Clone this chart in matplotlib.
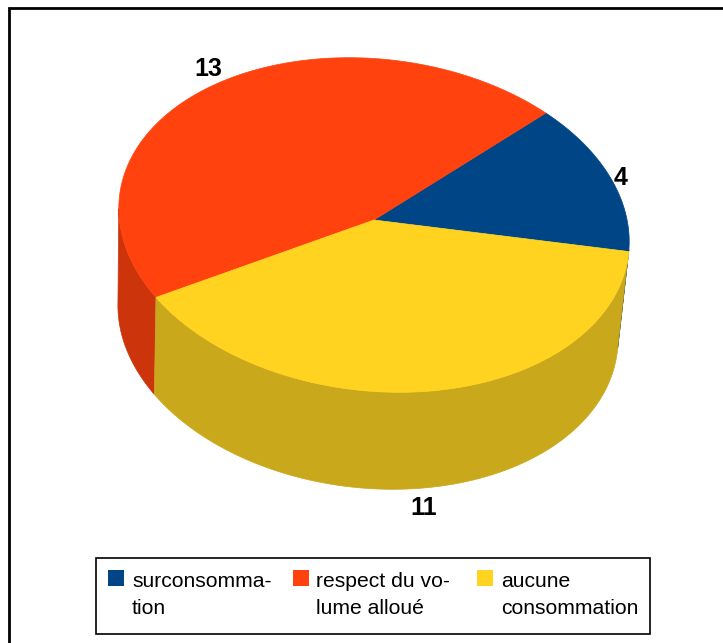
import numpy as np
import matplotlib
matplotlib.use('Agg')
import matplotlib.pyplot as plt
from matplotlib.patches import Polygon, Rectangle

plt.rcParams['font.family'] = ['Liberation Sans', 'DejaVu Sans']

categories = ['surconsomma-\ntion', 'respect du vo-\nlume alloué', 'aucune\nconsommation']
values = [4, 13, 11]
top_colors = ['#004586', '#ff420e', '#ffd320']
side_colors = ['#00376b', '#cc350b', '#c9a81b']

# pie geometry, in pixels. the ellipse in the picture is slightly tilted
cx, cy = 374, 225
apex = (374, 220)
rx, ry = 255, 167
skew = 10
depth = 97
start = -7
rim_lo, rim_hi = -182.2, -5


def arc(a0, a1):
    t = np.radians(np.linspace(a0, a1, 200))
    x = cx + rx * np.cos(t) - skew * np.sin(t)
    y = cy - ry * np.sin(t) + skew * np.cos(t)
    return x, y


def warp(a):
    # the 3d view does not keep the slice angles exactly
    t = np.radians(a)
    return a - 0.64 + 0.31 * np.sin(t) + 1.99 * np.cos(t)


fig = plt.figure(figsize=(7.23, 6.43), dpi=100)
ax = fig.add_axes([0, 0, 1, 1])
ax.set_xlim(0, 723)
ax.set_ylim(643, 0)
ax.axis('off')

# chart frame, open on the right and at the bottom
ax.plot([8.5, 8.5, 723], [643, 8, 8], color='black', lw=2, solid_joinstyle='miter')

sweep = np.array(values) / sum(values) * 360
ends = warp(start + np.cumsum(sweep))
starts = warp(start + np.cumsum(sweep) - sweep)

# only the part of each slice on the front of the pie shows its rim
for a0, a1, col in zip(starts, ends, side_colors):
    for lo, hi in [(a0, a1), (a0 - 360, a1 - 360)]:
        lo2, hi2 = max(lo, rim_lo), min(hi, rim_hi)
        if lo2 < hi2:
            x, y = arc(lo2, hi2)
            # bottom edge sits a bit narrower and further left than the top one
            xb = x - 6 - 0.02 * (x - cx)
            pts = np.r_[np.c_[x, y], np.c_[xb[::-1], y[::-1] + depth]]
            ax.add_patch(Polygon(pts, closed=True, fc=col, ec=col, lw=0.5))

for a0, a1, col in zip(starts, ends, top_colors):
    x, y = arc(a0, a1)
    pts = np.r_[[apex], np.c_[x, y]]
    ax.add_patch(Polygon(pts, closed=True, fc=col, ec=col, lw=0.5))

# value labels
label_pos = [(621, 178), (208, 69), (424, 508)]
for v, (lx, ly) in zip(values, label_pos):
    ax.text(lx, ly, str(v), fontsize=18, fontweight='bold', ha='center', va='center', color='black')

# legend
ax.add_patch(Rectangle((96, 558), 554, 76, fc='white', ec='black', lw=1.2))
leg_sw = [108, 293, 477]
leg_tx = [132, 316, 501]
for name, col, sx, tx in zip(categories, top_colors, leg_sw, leg_tx):
    ax.add_patch(Rectangle((sx, 570), 16, 16, fc=col, ec='none'))
    ax.text(tx, 595, name, fontsize=15.2, va='center', ha='left', linespacing=1.58, color='black')

fig.savefig('out.png', dpi=100, facecolor='white')
